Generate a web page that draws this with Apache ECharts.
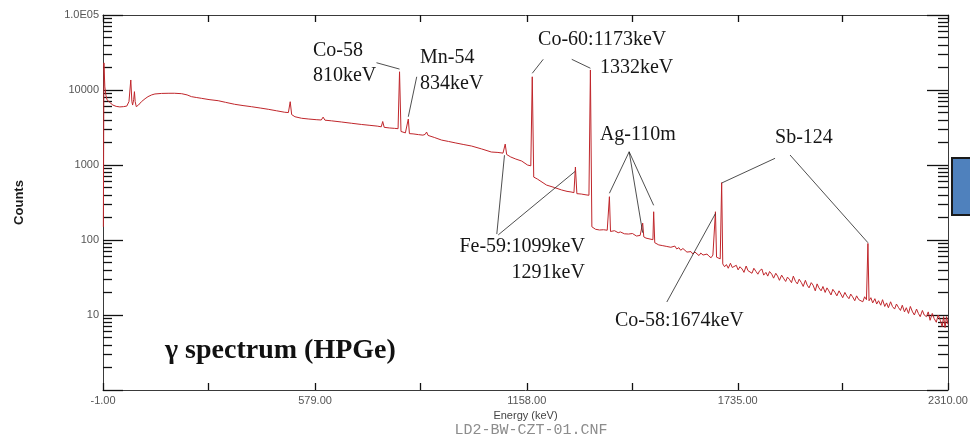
<!DOCTYPE html>
<html>
<head>
<meta charset="utf-8">
<script src="https://cdn.jsdelivr.net/npm/echarts@6/dist/echarts.min.js"></script>
<style>
  html, body { margin: 0; padding: 0; background: #fff; }
  #chart { width: 970px; height: 442px; }
</style>
</head>
<body>
<div id="chart"></div>
<script>
// HPGe gamma spectrum: counts per channel against energy (keV), log counts axis.

// Low-energy part: X-ray peaks, broad hump, 511 keV annihilation peak
const spectrumLow = [
  [0, 150], [1.5, 23000], [4, 11000], [7, 8500], [10, 7400], [18, 6800], [26, 6300],
  [35, 6050], [45, 5950], [55, 6000], [64, 6100], [70, 7000], [75, 13600], [78, 7000],
  [80, 6300], [83, 7500], [85, 9500], [87, 7000], [90, 6000], [96, 6300], [104, 6980],
  [114, 7650], [122, 8150], [132, 8600], [141, 8850], [159, 9000], [177, 9040],
  [194, 9050], [214, 8930], [229, 8600], [241, 8150], [254, 7950], [268, 7750],
  [289, 7450], [314, 7200], [334, 6850], [359, 6450], [382, 6200], [405, 5990],
  [429, 5750], [451, 5530], [474, 5280], [496, 5050], [506, 5000], [511, 6980],
  [515, 4700], [524, 4400], [542, 4200]
];

// Middle part: Co-58, Mn-54, Fe-59 and Co-60 lines on the Compton continuum
const spectrumMid = [
  [562, 4100], [582, 4020], [596, 3980], [601, 4350], [606, 3960], [624, 3880],
  [651, 3745], [679, 3600], [706, 3470], [729, 3380], [749, 3300], [760, 3230],
  [764, 3800], [768, 3180], [782, 3120], [796, 3080], [806, 3050], [810, 17500],
  [814, 2800], [818, 2720], [826, 2680], [831, 2700], [834, 4100], [837, 2620],
  [847, 2600], [862, 2540], [874, 2500], [880, 2560], [884, 2750], [888, 2480],
  [905, 2330], [925, 2150], [944, 2060], [964, 1965], [984, 1880], [1007, 1790],
  [1034, 1640], [1061, 1490], [1079, 1470], [1093, 1440], [1096, 1480], [1099, 1900],
  [1103, 1380], [1114, 1280], [1128, 1200], [1144, 1130], [1160, 1000], [1169, 975],
  [1173, 15000], [1177, 690], [1187, 650], [1212, 540], [1234, 500], [1253, 465],
  [1268, 445], [1279, 437], [1287, 428], [1291, 940], [1295, 415], [1307, 410],
  [1320, 400], [1328, 395], [1332, 18500], [1336, 150]
];

// High-energy part: Ag-110m, Co-58 1674, Sb-124 lines on a noisy continuum
const spectrumHigh = [
  [1340, 145], [1346, 139], [1351, 141], [1357, 136], [1362, 140], [1368, 137],
  [1373, 131], [1378, 135], [1381, 133], [1384, 378], [1387, 130], [1392, 127],
  [1398, 133], [1403, 129], [1408, 125], [1414, 128], [1419, 131], [1425, 121],
  [1430, 124], [1436, 120], [1441, 117], [1447, 122], [1452, 118], [1458, 113],
  [1463, 117], [1468, 115], [1472, 112], [1475, 168], [1478, 110], [1484, 106],
  [1489, 109], [1495, 103], [1500, 106], [1503, 101], [1505, 238], [1508, 92],
  [1513, 88], [1519, 86], [1524, 91], [1530, 84], [1535, 86], [1541, 82],
  [1546, 87], [1552, 80], [1557, 78], [1563, 83], [1568, 76], [1574, 79],
  [1579, 73], [1585, 77], [1590, 74], [1596, 69], [1601, 73], [1607, 70],
  [1612, 65], [1618, 69], [1623, 66], [1629, 62], [1634, 67], [1640, 63],
  [1645, 60], [1651, 65], [1656, 61], [1662, 58], [1667, 63], [1671, 60],
  [1674, 238], [1677, 59], [1682, 62], [1687, 56], [1691, 581], [1694, 48],
  [1699, 44], [1704, 47], [1709, 42], [1715, 49], [1720, 43], [1725, 41],
  [1731, 46], [1736, 40], [1741, 44], [1747, 41], [1752, 37], [1758, 45],
  [1763, 39], [1768, 41], [1774, 36], [1779, 42], [1785, 38], [1790, 35],
  [1795, 39], [1801, 41], [1806, 34], [1812, 37], [1817, 33], [1822, 38],
  [1828, 35], [1833, 31], [1839, 36], [1844, 33], [1849, 29], [1855, 34],
  [1860, 31], [1866, 28], [1871, 32], [1876, 30], [1882, 27], [1887, 33],
  [1893, 28], [1898, 26], [1903, 30], [1909, 27], [1914, 24], [1920, 29],
  [1925, 25], [1930, 23], [1936, 27], [1941, 25], [1947, 21], [1952, 26],
  [1957, 23], [1963, 21], [1968, 24], [1974, 20], [1979, 23], [1984, 21],
  [1990, 18.5], [1995, 22], [2001, 20], [2006, 18], [2012, 21], [2017, 19],
  [2022, 17], [2028, 20], [2033, 18], [2039, 16.5], [2044, 19], [2049, 17.5],
  [2055, 15.5], [2060, 18], [2066, 16], [2071, 17], [2077, 15], [2082, 17.5],
  [2087, 16], [2091, 90], [2094, 15.5], [2099, 17], [2104, 14.5], [2110, 16.5],
  [2115, 14], [2120, 15.5], [2126, 13.5], [2131, 16], [2137, 13], [2142, 14.5],
  [2147, 12.5], [2153, 15], [2158, 13], [2164, 12], [2169, 14], [2175, 12.5],
  [2180, 11.5], [2185, 13.5], [2191, 11], [2196, 12.5], [2202, 10.5], [2207, 13],
  [2213, 11], [2218, 10], [2224, 12], [2229, 10.5], [2234, 9.5], [2240, 11.5],
  [2245, 10], [2251, 9.5], [2256, 11], [2261, 8.5], [2267, 10.5], [2272, 9],
  [2278, 8], [2283, 10], [2289, 8.5], [2294, 7], [2298, 9.5], [2302, 6.8],
  [2306, 9.5], [2310, 7.5]
];

// Axis ticks and labels
const xTickValues = [-1, 288, 579, 867, 1158, 1446, 1735, 2022, 2310];
const xLabelValues = [-1, 579, 1158, 1735, 2310];
const xTickLabels = ['-1.00', '579.00', '1158.00', '1735.00', '2310.00'];
const yLabelValues = [10, 100, 1000, 10000, 100000];
const yTickLabels = ['10', '100', '1000', '10000', '1.0E05'];

// Nuclide annotations (anchor given as [energy, counts])
const annotationTexts = [
  'Co-58', '810keV', 'Mn-54', '834keV', 'Co-60:1173keV', '1332keV', 'Ag-110m',
  'Sb-124', 'Fe-59:1099keV', '1291keV', 'Co-58:1674keV'
];
const annotationAnchors = [
  { at: [573, 33600] }, { at: [573, 15400] }, { at: [866, 27100] }, { at: [866, 12200] },
  { at: [1189, 46400] }, { at: [1358, 19950] }, { at: [1358, 2510] }, { at: [1837, 2330] },
  { at: [1317, 81.9], align: 'right' }, { at: [1317, 36.3], align: 'right' },
  { at: [1399, 8.45] }
];
const leaderLines = [
  [[747, 23100], [810, 19000]],
  [[857, 15000], [834, 4400]],
  [[1203, 25650], [1173, 16700]],
  [[1281, 25650], [1332, 19500]],
  [[1076, 120], [1097, 1350]],
  [[1080, 117], [1290, 820]],
  [[1438, 1500], [1384, 420]],
  [[1438, 1500], [1475, 125]],
  [[1438, 1500], [1505, 290]],
  [[1837, 1228], [1691, 575]],
  [[1878, 1359], [2091, 92]],
  [[1541, 14.9], [1674, 225]]
];
const titleText = 'γ spectrum (HPGe)';
const fileNameText = 'LD2-BW-CZT-01.CNF';

const spectrum = spectrumLow.concat(spectrumMid, spectrumHigh);

// Minor log ticks at 2..9 x 10^n, placed on a companion linear axis in log10 units
const minorTickPositions = [];
for (let d = 0; d < 5; d++) {
  for (let k = 2; k <= 9; k++) minorTickPositions.push(d + Math.log10(k));
}

const labelFont = 'Liberation Sans, Arial, sans-serif';
const axisColor = '#3a3a3a';
const tickStyle = { color: '#111', width: 1.3 };

function yLabel(v) {
  for (let i = 0; i < yLabelValues.length; i++) {
    if (Math.abs(Math.log10(v) - Math.log10(yLabelValues[i])) < 1e-6) return yTickLabels[i];
  }
  return '';
}
function xLabel(v) {
  for (let i = 0; i < xLabelValues.length; i++) {
    if (Math.abs(v - xLabelValues[i]) < 1e-6) return xTickLabels[i];
  }
  return '';
}

const chart = echarts.init(document.getElementById('chart'), null, { renderer: 'canvas' });

const option = {
  backgroundColor: '#ffffff',
  animation: false,
  grid: { left: 103, right: 22, top: 15, bottom: 52, containLabel: false, outerBoundsMode: 'none' },
  xAxis: [
    {
      type: 'value', position: 'bottom', min: -1, max: 2310,
      name: 'Energy (keV)', nameLocation: 'middle', nameGap: 17,
      nameTextStyle: { fontFamily: labelFont, fontSize: 11, color: '#444' },
      axisLine: { show: true, onZero: false, lineStyle: { color: axisColor, width: 1 } },
      axisTick: { show: true, inside: true, length: 7, customValues: xTickValues, lineStyle: tickStyle },
      axisLabel: {
        show: true, customValues: xLabelValues, formatter: xLabel, margin: 5,
        fontFamily: labelFont, fontSize: 11, color: '#555'
      },
      splitLine: { show: false }
    },
    {
      type: 'value', position: 'top', min: -1, max: 2310,
      axisLine: { show: true, onZero: false, lineStyle: { color: axisColor, width: 1 } },
      axisTick: { show: true, inside: true, length: 7, customValues: xTickValues, lineStyle: tickStyle },
      axisLabel: { show: false },
      splitLine: { show: false }
    }
  ],
  yAxis: [
    {
      type: 'log', logBase: 10, position: 'left', min: 1, max: 100000,
      name: 'Counts', nameLocation: 'middle', nameGap: 77, nameRotate: 90,
      nameTextStyle: { fontFamily: labelFont, fontSize: 13, fontWeight: 'bold', color: '#1a1a1a' },
      axisLine: { show: true, onZero: false, lineStyle: { color: axisColor, width: 1 } },
      axisTick: { show: true, inside: true, length: 20, lineStyle: tickStyle },
      axisLabel: {
        show: true, formatter: yLabel, margin: 4, showMaxLabel: true,
        fontFamily: labelFont, fontSize: 11, color: '#555'
      },
      splitLine: { show: false }
    },
    {
      type: 'value', position: 'left', min: 0, max: 5,
      axisLine: { show: false, onZero: false },
      axisTick: { show: true, inside: true, length: 9, customValues: minorTickPositions, lineStyle: tickStyle },
      axisLabel: { show: false },
      splitLine: { show: false }
    },
    {
      type: 'log', logBase: 10, position: 'right', min: 1, max: 100000,
      axisLine: { show: true, onZero: false, lineStyle: { color: axisColor, width: 1 } },
      axisTick: { show: true, inside: true, length: 21, lineStyle: tickStyle },
      axisLabel: { show: false },
      splitLine: { show: false }
    },
    {
      type: 'value', position: 'right', min: 0, max: 5,
      axisLine: { show: false, onZero: false },
      axisTick: { show: true, inside: true, length: 10, customValues: minorTickPositions, lineStyle: tickStyle },
      axisLabel: { show: false },
      splitLine: { show: false }
    }
  ],
  series: [
    {
      type: 'line',
      name: 'spectrum',
      xAxisIndex: 0,
      yAxisIndex: 0,
      data: spectrum,
      showSymbol: false,
      symbol: 'none',
      sampling: 'none',
      lineStyle: { color: '#c0262b', width: 1 },
      z: 3,
      silent: true,
      markLine: {
        silent: true,
        symbol: ['none', 'none'],
        label: { show: false },
        lineStyle: { color: '#222', width: 0.8, type: 'solid' },
        data: leaderLines.map(seg => [{ coord: seg[0] }, { coord: seg[1] }])
      }
    }
  ]
};

chart.setOption(option);

// Text annotations positioned from data coordinates
const toPx = p => chart.convertToPixel({ xAxisIndex: 0, yAxisIndex: 0 }, p);
const graphics = annotationTexts.map((t, i) => {
  const a = annotationAnchors[i];
  const px = toPx(a.at);
  return {
    type: 'text', x: px[0], y: px[1], z: 10,
    style: {
      text: t, fill: '#161616',
      font: '20px "Liberation Serif", "Times New Roman", serif',
      align: a.align || 'left', verticalAlign: 'middle'
    }
  };
});
const titlePx = toPx([168.6, 3.31]);
graphics.push({
  type: 'text', x: titlePx[0], y: titlePx[1], z: 10,
  style: {
    text: titleText, fill: '#111',
    font: 'bold 28px "Liberation Serif", "Times New Roman", serif',
    align: 'left', verticalAlign: 'middle'
  }
});
graphics.push({
  type: 'text', x: 531, y: 430, z: 10,
  style: {
    text: fileNameText, fill: '#8c8c8c',
    font: '15px "Liberation Mono", "Courier New", monospace',
    align: 'center', verticalAlign: 'middle'
  }
});
// edge of the neighbouring blue panel on the slide
graphics.push({
  type: 'rect', z: 10,
  shape: { x: 952, y: 158, width: 30, height: 57 },
  style: { fill: '#4f81bd', stroke: '#1a1a1a', lineWidth: 2 }
});
chart.setOption({ graphic: graphics });
</script>
</body>
</html>
